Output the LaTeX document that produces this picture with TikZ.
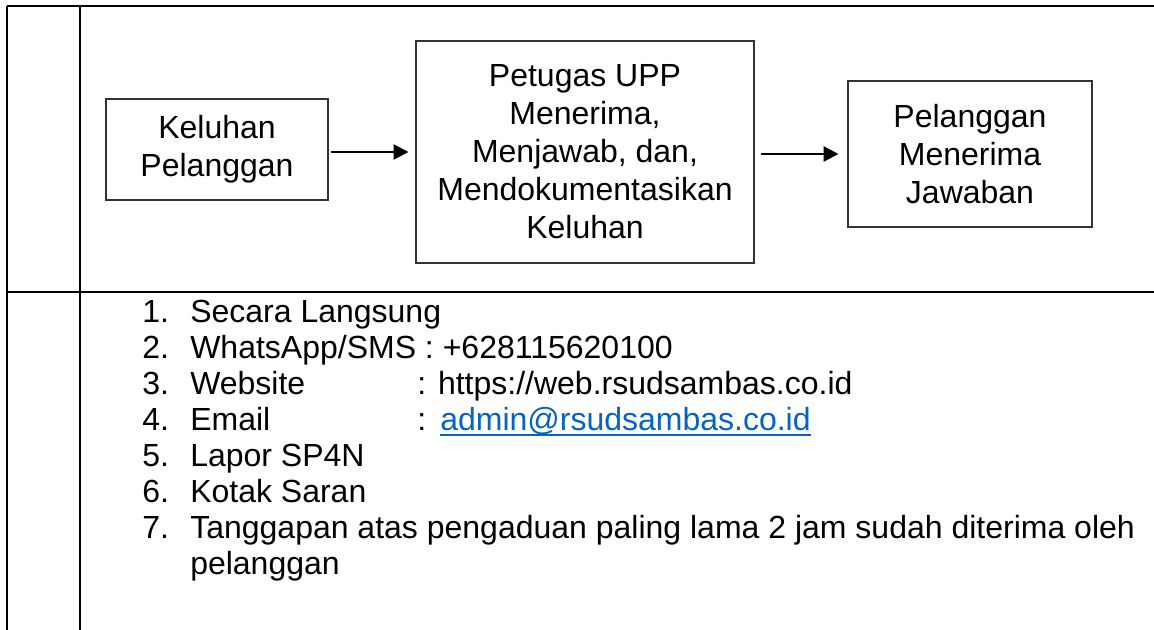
\documentclass[tikz,border=0pt]{standalone}
\usepackage{fontspec}
\setmainfont{Liberation Sans}
\usetikzlibrary{arrows.meta,positioning}
\definecolor{linkblue}{HTML}{0563C1}

\begin{document}
\begin{tikzpicture}[
  x=0.75pt, y=-0.75pt,
  font=\fontsize{24}{28.5}\selectfont,
  box/.style={draw=black!80, line width=1pt, align=center, inner sep=0pt},
  arrow/.style={-{Triangle[length=11pt,width=11.5pt]}, line width=0.9pt},
  rule/.style={line width=2.2pt},
  item/.style={anchor=base west, inner sep=0pt, font=\fontsize{24}{27}\selectfont}
]
\useasboundingbox (0,0) rectangle (1154,630);

% table frame
\draw[rule] (7,6) -- (1154,6);
\draw[rule] (7,292) -- (1154,292);
\draw[rule] (7,6) -- (7,630);
\draw[rule] (80,6) -- (80,630);

% flow
\node[box, minimum width=166.5pt, minimum height=75.75pt] (keluhan) at (217,149.5)
  {Keluhan\\Pelanggan};
\node[box, minimum width=253.5pt, minimum height=166.5pt] (petugas) at (585,152)
  {Petugas UPP\\Menerima,\\Menjawab, dan,\\Mendokumentasikan\\Keluhan};
\node[box, minimum width=183pt, minimum height=109.5pt] (terima) at (970,154)
  {Pelanggan\\Menerima\\Jawaban};

\draw[arrow, shorten <=1.5pt, shorten >=5.25pt] (keluhan.east |- petugas.center) -- (petugas.west);
\draw[arrow, shorten <=4.5pt, shorten >=6.75pt] (petugas.east |- terima.center) -- (terima.west);

% list
\foreach \k in {1,...,7} {
  \node[item] (num\k) at (142,{287+36*\k}) {\k.};
}
\node[item] (txt1) at (190,323) {Secara Langsung};
\node[item] (txt2) at (190,359) {WhatsApp/SMS : +628115620100};
\node[item] (txt3) at (190,395) {Website};
\node[item] (web) at (417,395) {: https://web.rsudsambas.co.id};
\node[item] (txt4) at (190,431) {Email};
\node[item] (mailsep) at (417,431) {:};
\node[item, text=linkblue] (mail) at (440,431) {admin@rsudsambas.co.id};
\draw[linkblue, line width=1.4pt] ([yshift=-3pt]mail.base west) -- ([yshift=-3pt]mail.base east);
\node[item] (txt5) at (190,467) {Lapor SP4N};
\node[item] (txt6) at (190,503) {Kotak Saran};
\node[item] (txt7) at (190,539) {Tanggapan atas pengaduan paling lama 2 jam sudah diterima oleh};
\node[item] (txt7b) at (190,575) {pelanggan};

\end{tikzpicture}
\end{document}
